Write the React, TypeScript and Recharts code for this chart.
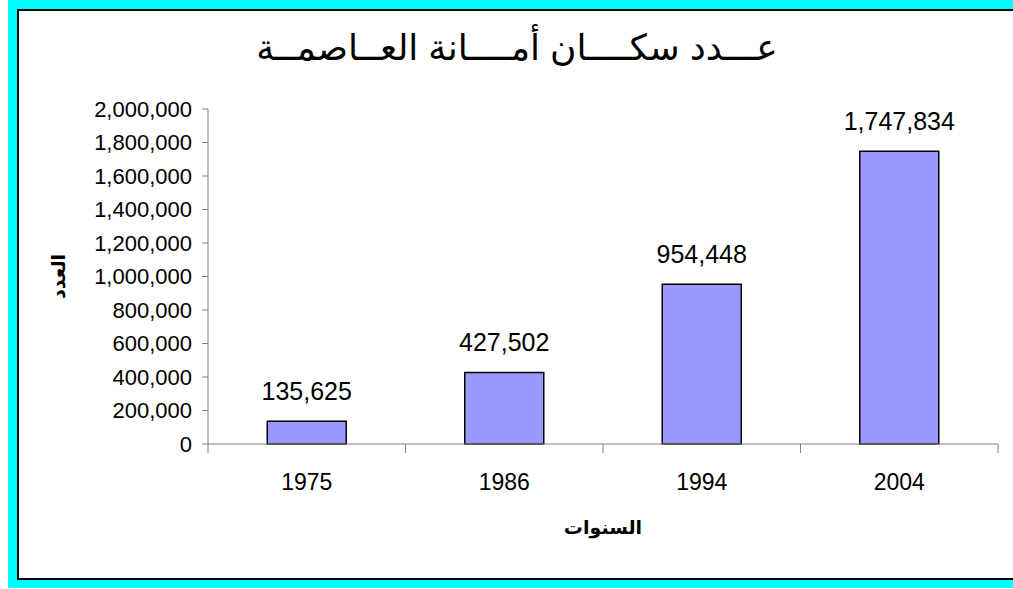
import React from 'react'
import { BarChart, Bar, XAxis, YAxis, LabelList } from 'recharts'

const years = ['1975', '1986', '1994', '2004']
const population = [135625, 427502, 954448, 1747834]
const yTicks = [0, 200000, 400000, 600000, 800000, 1000000, 1200000, 1400000, 1600000, 1800000, 2000000]

const title = 'عـــدد سكــــان أمــــانة العــاصمــة'
const xTitle = 'السنوات'
const yTitle = 'العدد'

const data = years.map((y, i) => ({ year: y, value: population[i] }))

const fmt = (v: number) => Number(v).toLocaleString('en-US')
const font = "Arial, 'Liberation Sans', 'DejaVu Sans', sans-serif"

const YearTick = (props: any) => {
  const { x, y, payload, index, visibleTicksCount } = props
  const half = payload?.offset ?? 0
  return (
    <g>
      <line x1={x - half} y1={y} x2={x - half} y2={y + 9} stroke="#808080" />
      {index === visibleTicksCount - 1 && (
        <line x1={x + half} y1={y} x2={x + half} y2={y + 9} stroke="#808080" />
      )}
      <text x={x} y={y + 46} textAnchor="middle" fontSize={23} fontFamily={font} fill="#000">
        {payload.value}
      </text>
    </g>
  )
}

export default function App() {
  return (
    <div style={{ position: 'absolute', left: 8, top: 0, width: 1005, height: 588, background: '#00FFFF', overflow: 'hidden' }}>
      <div style={{ position: 'absolute', left: 9, top: 9, width: 1100, height: 571, border: '2px solid #000', boxSizing: 'border-box', background: '#fff' }} />
      <div dir="rtl" style={{ position: 'absolute', left: 0, top: 27, width: 1018, textAlign: 'center', fontFamily: font, fontSize: 36, color: '#000', lineHeight: '42px' }}>
        {title}
      </div>
      <div style={{ position: 'absolute', left: 0, top: 0 }}>
        <BarChart width={1005} height={588} data={data} margin={{ top: 109, right: 15, bottom: 44, left: 0 }} barCategoryGap="30%">
          <XAxis
            dataKey="year"
            height={100}
            tickSize={0}
            tickMargin={0}
            tickLine={false}
            stroke="#808080"
            tick={<YearTick />}
            interval={0}
            label={{
              content: (p: any) => {
                const vb = p.viewBox
                return (
                  <text x={vb.x + vb.width / 2} y={vb.y + 83} textAnchor="middle" dominantBaseline="central" fontSize={19} fontWeight="bold" fontFamily={font} fill="#000">
                    {xTitle}
                  </text>
                )
              },
            }}
          />
          <YAxis
            width={200}
            domain={[0, 2000000]}
            ticks={yTicks}
            interval={0}
            tickFormatter={fmt}
            tickSize={6}
            tickMargin={10}
            stroke="#808080"
            tick={{ fill: '#000', fontSize: 22, fontFamily: font }}
            label={{
              content: (p: any) => {
                const vb = p.viewBox
                const cx = vb.x + 50
                const cy = vb.y + vb.height / 2
                return (
                  <text x={cx} y={cy} transform={`rotate(-90 ${cx} ${cy})`} textAnchor="middle" dominantBaseline="central" fontSize={19} fontWeight="bold" fontFamily={font} fill="#000">
                    {yTitle}
                  </text>
                )
              },
            }}
          />
          <Bar dataKey="value" fill="#9999FF" stroke="#000" strokeWidth={1.5} isAnimationActive={false}>
            <LabelList dataKey="value" position="top" offset={21} formatter={(v: any) => fmt(v)} fill="#000" fontSize={25} fontFamily={font} />
          </Bar>
        </BarChart>
      </div>
    </div>
  )
}
